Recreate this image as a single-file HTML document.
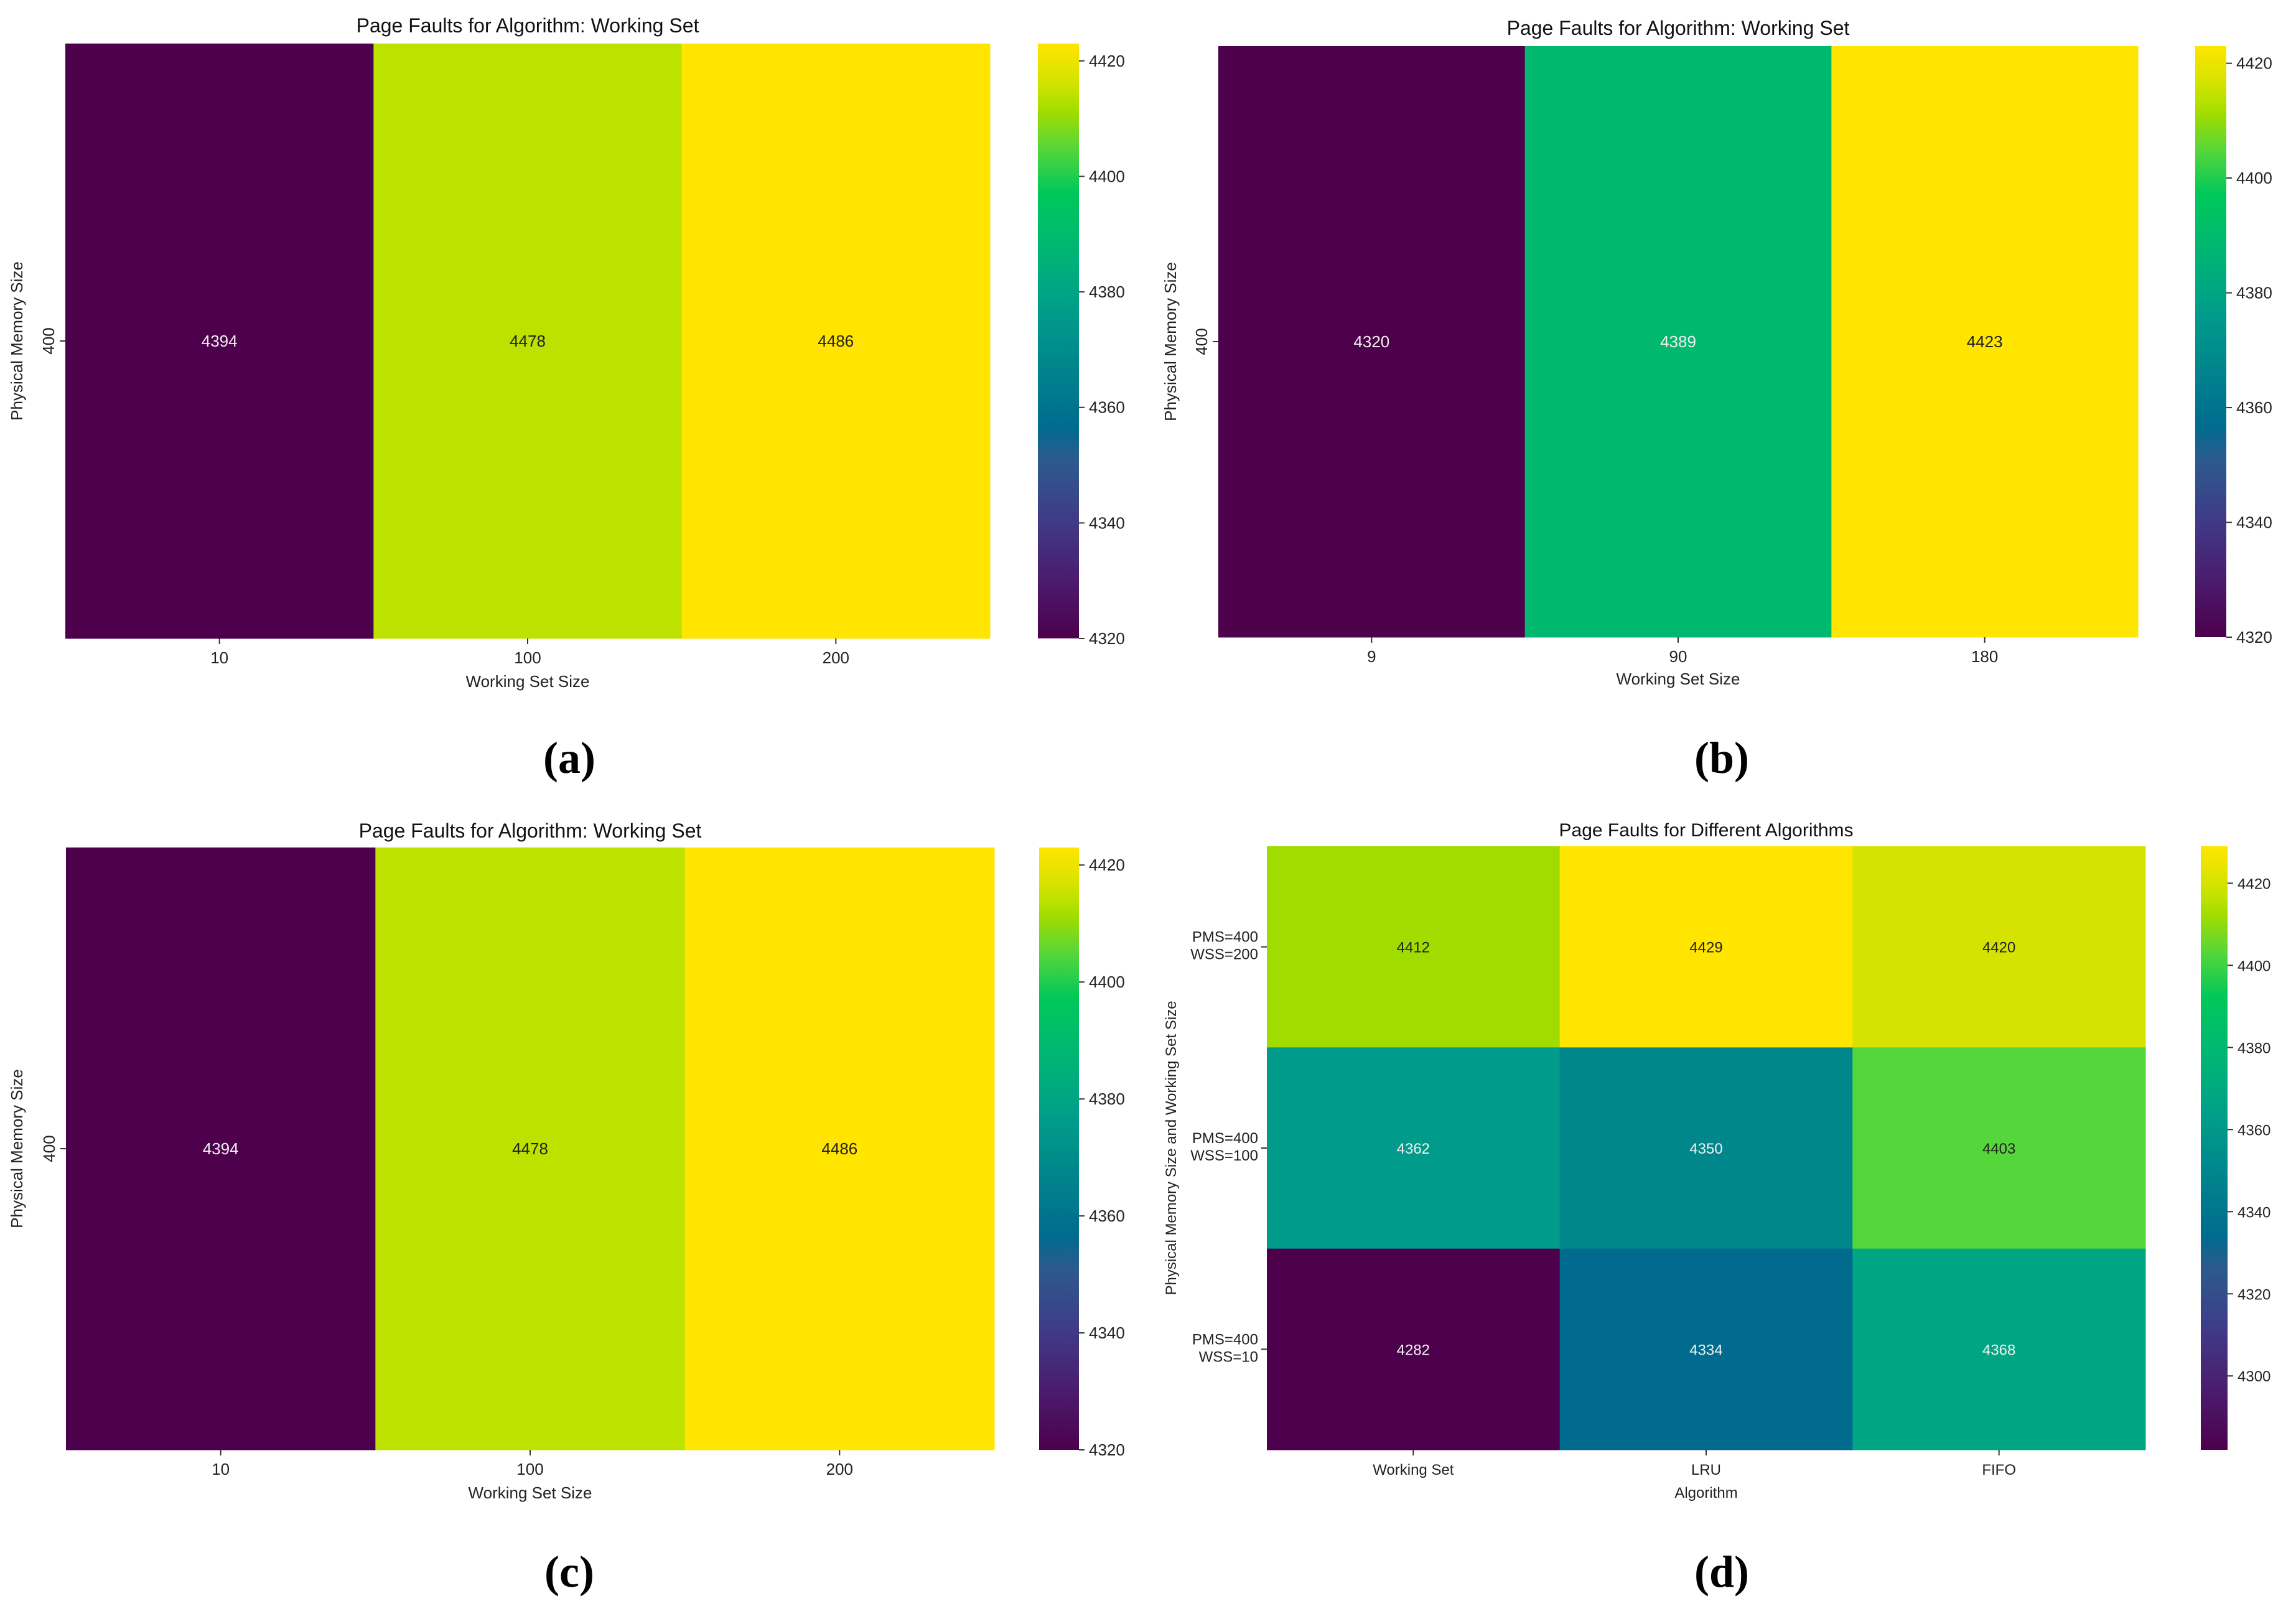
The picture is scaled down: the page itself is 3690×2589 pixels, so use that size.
<!DOCTYPE html>
<html><head><meta charset="utf-8">
<style>
html,body{margin:0;padding:0;background:#fff;}
svg{display:block;}
text{font-family:"Liberation Sans","DejaVu Sans",sans-serif;}
</style></head>
<body>
<svg id="fig" xmlns="http://www.w3.org/2000/svg" width="3690" height="2589" viewBox="0 0 3690 2589">
<defs>
<linearGradient id="vir" x1="0" y1="1" x2="0" y2="0"></linearGradient>
</defs>
</svg>
<script>
// ---- data ----
const aXCats = ["10","100","200"];
const aYCats = ["400"];
const aValues = [[4394,4478,4486]];
const aCbTicks = [4320,4340,4360,4380,4400,4420];
const aCbRange = [4320,4423];

const bXCats = ["9","90","180"];
const bYCats = ["400"];
const bValues = [[4320,4389,4423]];
const bCbTicks = [4320,4340,4360,4380,4400,4420];
const bCbRange = [4320,4423];

const cXCats = ["10","100","200"];
const cYCats = ["400"];
const cValues = [[4394,4478,4486]];
const cCbTicks = [4320,4340,4360,4380,4400,4420];
const cCbRange = [4320,4423];

const dXCats = ["Working Set","LRU","FIFO"];
const dYCats = [["PMS=400","WSS=200"],["PMS=400","WSS=100"],["PMS=400","WSS=10"]];
const dValues = [[4412,4429,4420],[4362,4350,4403],[4282,4334,4368]];
const dCbTicks = [4300,4320,4340,4360,4380,4400,4420];
const dCbRange = [4282,4429];

// ---- colormap (as rendered in the figure) ----
const stops = [[0,"#4d004c"],[0.1,"#4b1c6f"],[0.2,"#3f3b87"],[0.3,"#2c5a8e"],[0.354,"#006b8f"],[0.463,"#00878c"],[0.544,"#009b8a"],[0.585,"#00a684"],[0.67,"#00b96f"],[0.75,"#00c85a"],[0.823,"#55d63a"],[0.884,"#a0dc00"],[0.913,"#bde200"],[0.939,"#d6e300"],[1,"#ffe500"]];
function hex(h){return [parseInt(h.substr(1,2),16),parseInt(h.substr(3,2),16),parseInt(h.substr(5,2),16)];}
function cmap(t){
  t=Math.max(0,Math.min(1,t));
  for(let i=1;i<stops.length;i++){
    if(t<=stops[i][0]){
      const a=stops[i-1],b=stops[i],f=(t-a[0])/(b[0]-a[0]);
      const ca=hex(a[1]),cb=hex(b[1]);
      return "rgb("+ca.map((v,k)=>Math.round(v+(cb[k]-v)*f)).join(",")+")";
    }
  }
  return stops[stops.length-1][1];
}
const NS="http://www.w3.org/2000/svg";
const svg=document.getElementById('fig');
const grad=document.getElementById('vir');
stops.forEach(s=>{const st=document.createElementNS(NS,'stop');st.setAttribute('offset',s[0]);st.setAttribute('stop-color',s[1]);grad.appendChild(st);});

function el(tag,attrs,parent,txt){
  const e=document.createElementNS(NS,tag);
  for(const k in attrs)e.setAttribute(k,attrs[k]);
  if(txt!==undefined)e.textContent=txt;
  (parent||svg).appendChild(e);return e;
}

function panel(L,xCats,yCats,values,cbTicks,cbRange){
  const g=el('g',{});
  
  
  const flat=values.flat();
  const vmin=Math.min(...flat),vmax=Math.max(...flat);
  const nR=values.length,nC=xCats.length;
  const cw=(L.x1-L.x0)/nC,ch=(L.y1-L.y0)/nR;
  const xPos=i=>L.x0+cw*(i+0.5), yPos=j=>L.y0+ch*(j+0.5);
  const t=el('text',{x:(L.x0+L.x1)/2,y:L.titleY,'text-anchor':'middle','font-size':L.titleFs,fill:'#111'},g,L.title);
  
  
  values.forEach((row,j)=>row.forEach((v,i)=>{
    const tt=(v-vmin)/(vmax-vmin);
    const r=el('rect',{x:L.x0+cw*i,y:L.y0+ch*j,width:cw+0.5,height:ch+0.5,fill:cmap(tt)},g);
    
    
    const lbl=el('text',{x:xPos(i),y:yPos(j)+9,'text-anchor':'middle','font-size':L.fs,fill:tt<0.7?'#f0f0f0':'#222'},g,String(v));
    
    
  }));
  xCats.forEach((c,i)=>{
    el('line',{x1:xPos(i),x2:xPos(i),y1:L.y1,y2:L.y1+9,stroke:'#333','stroke-width':2},g);
    const tx=el('text',{x:xPos(i),y:L.xTickY,'text-anchor':'middle','font-size':L.fs,fill:'#222'},g,c);
    
    
  });
  const xl=el('text',{x:(L.x0+L.x1)/2,y:L.xLabelY,'text-anchor':'middle','font-size':L.fs,fill:'#222'},g,L.xLabel);
  
  
  yCats.forEach((c,j)=>{
    const y=yPos(j);
    el('line',{x1:L.x0-9,x2:L.x0,y1:y,y2:y,stroke:'#333','stroke-width':2},g);
    let ty;
    if(Array.isArray(c)){
      ty=el('text',{x:L.x0-14,y:y-8,'text-anchor':'end','font-size':L.fs,fill:'#222'},g);
      el('tspan',{x:L.x0-14,dy:0},ty,c[0]);
      el('tspan',{x:L.x0-14,dy:L.fs+4},ty,c[1]);
    } else {
      ty=el('text',{x:0,y:0,'text-anchor':'middle','font-size':L.fs,fill:'#222',transform:`translate(${L.x0-18},${y}) rotate(-90)`},g,c);
    }
    
    
  });
  const yl=el('text',{x:0,y:0,'text-anchor':'middle','font-size':L.fs,fill:'#222',transform:`translate(${L.yLabelX},${(L.y0+L.y1)/2}) rotate(-90)`},g,L.yLabel);
  
  
  const cb=el('rect',{x:L.cbx0,y:L.y0,width:L.cbx1-L.cbx0,height:L.y1-L.y0,fill:'url(#vir)'},g);
  
  
  const cbY=v=>L.y1-(v-cbRange[0])/(cbRange[1]-cbRange[0])*(L.y1-L.y0);
  cbTicks.forEach(v=>{
    const y=cbY(v);
    el('line',{x1:L.cbx1,x2:L.cbx1+9,y1:y,y2:y,stroke:'#333','stroke-width':2},g);
    const ct=el('text',{x:L.cbx1+16,y:y+9,'font-size':L.fs,fill:'#222'},g,String(v));
    
    
  });
  const sub=el('text',{x:L.subX,y:L.subY,'text-anchor':'middle',style:'font-family:"Liberation Serif",serif;font-size:72px;font-weight:bold;',fill:'#000'},g,L.sub);
  
  
}

const wsTitle="Page Faults for Algorithm: Working Set";
panel({name:'panel-a',title:wsTitle,titleY:52,titleFs:32,x0:105,x1:1591,y0:70,y1:1026,xTickY:1066,xLabelY:1104,yLabelX:36,fs:26,cbx0:1668,cbx1:1734,xLabel:'Working Set Size',yLabel:'Physical Memory Size',sub:'(a)',subX:915,subY:1242},aXCats,aYCats,aValues,aCbTicks,aCbRange);
panel({name:'panel-b',title:wsTitle,titleY:56,titleFs:32,x0:1958,x1:3436,y0:74,y1:1024,xTickY:1064,xLabelY:1100,yLabelX:1890,fs:26,cbx0:3528,cbx1:3578,xLabel:'Working Set Size',yLabel:'Physical Memory Size',sub:'(b)',subX:2767,subY:1242},bXCats,bYCats,bValues,bCbTicks,bCbRange);
panel({name:'panel-c',title:wsTitle,titleY:1346,titleFs:32,x0:106,x1:1598,y0:1362,y1:2330,xTickY:2370,xLabelY:2408,yLabelX:36,fs:26,cbx0:1670,cbx1:1734,xLabel:'Working Set Size',yLabel:'Physical Memory Size',sub:'(c)',subX:915,subY:2550},cXCats,cYCats,cValues,cCbTicks,cCbRange);
panel({name:'panel-d',title:'Page Faults for Different Algorithms',titleY:1344,titleFs:30,x0:2036,x1:3448,y0:1360,y1:2330,xTickY:2370,xLabelY:2407,yLabelX:1890,fs:24,cbx0:3537,cbx1:3580,xLabel:'Algorithm',yLabel:'Physical Memory Size and Working Set Size',sub:'(d)',subX:2767,subY:2550},dXCats,dYCats,dValues,dCbTicks,dCbRange);
</script>
</body></html>
